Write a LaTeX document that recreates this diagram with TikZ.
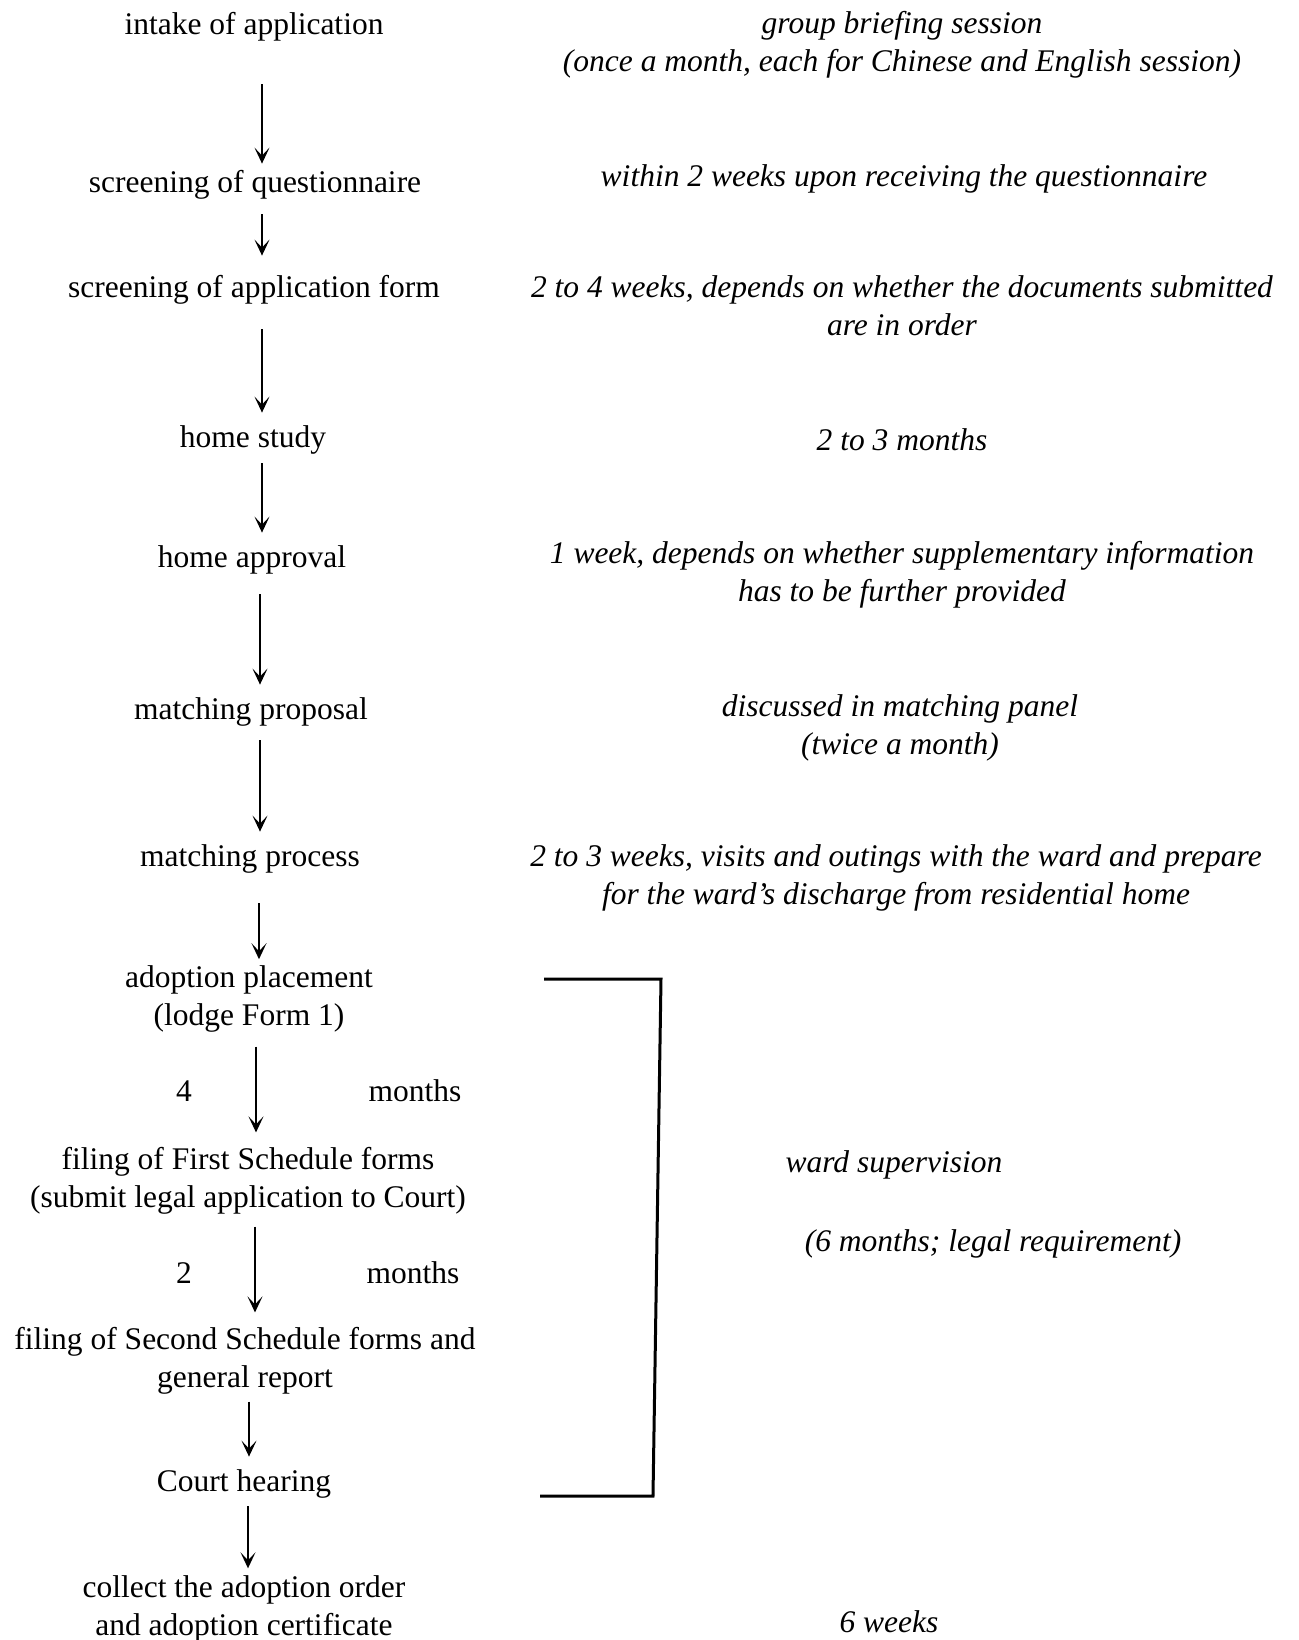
\documentclass[tikz,border=0pt]{standalone}
\usepackage{fontspec}
\setmainfont{Liberation Serif}
\usetikzlibrary{arrows.meta}
\newcommand\mystrut{\rule[-3.95pt]{0pt}{19pt}}
\begin{document}
\begin{tikzpicture}[x=0.5pt,y=-0.5pt,
  lbl/.style={inner sep=0pt, align=center, font=\fontsize{15.75}{19}\selectfont},
  one/.style={lbl, text height=15.05pt, text depth=3.95pt},
  tm/.style={lbl, font=\fontsize{15.75}{19}\selectfont\itshape},
  tmone/.style={tm, text height=15.05pt, text depth=3.95pt},
  arr/.style={line width=0.8pt, -{Stealth[length=8pt,width=7.5pt,inset=4pt]}},
  brk/.style={line width=1.5pt}]
\useasboundingbox (0,0) rectangle (1299,1640);
% left column
\node[one] (n1) at (254,23) {intake of application};
\node[one] (n2) at (255,181) {screening of questionnaire};
\node[one] (n3) at (254,286) {screening of application form};
\node[one] (n4) at (253,436) {home study};
\node[one] (n5) at (252,556) {home approval};
\node[one] (n6) at (251,708) {matching proposal};
\node[one] (n7) at (250,855) {matching process};
\node[lbl] (n8) at (249,995) {\mystrut adoption placement\\(lodge Form 1)\mystrut};
\node[lbl] (n9) at (248,1177) {\mystrut filing of First Schedule forms\\(submit legal application to Court)\mystrut};
\node[lbl] (n10) at (245,1357) {\mystrut filing of Second Schedule forms and\\general report\mystrut};
\node[one] (n11) at (244,1480) {Court hearing};
\node[lbl] (n12) at (244,1605) {\mystrut collect the adoption order\\and adoption certificate\mystrut};
% arrows
\draw[arr, shorten <=21pt, shorten >=-1pt] ([xshift=4pt]n1.south) -- ([xshift=4pt]n1.south |- n2.north);
\draw[arr, shorten <=7pt, shorten >=5.5pt] ([xshift=3.5pt]n2.south) -- ([xshift=3.5pt]n2.south |- n3.north);
\draw[arr, shorten <=12pt, shorten >=2pt] ([xshift=4pt]n3.south) -- ([xshift=4pt]n3.south |- n4.north);
\draw[arr, shorten <=4pt, shorten >=2pt] ([xshift=4.5pt]n4.south) -- ([xshift=4.5pt]n4.south |- n5.north);
\draw[arr, shorten <=9.5pt, shorten >=2pt] ([xshift=4pt]n5.south) -- ([xshift=4pt]n5.south |- n6.north);
\draw[arr, shorten <=6.5pt, shorten >=2pt] ([xshift=4.5pt]n6.south) -- ([xshift=4.5pt]n6.south |- n7.north);
\draw[arr, shorten <=14.5pt, shorten >=-1.3pt] ([xshift=4.5pt]n7.south) -- ([xshift=4.5pt]n7.south |- n8.north);
\draw[arr, shorten <=6.6pt, shorten >=3.1pt] ([xshift=3.5pt]n8.south) -- ([xshift=3.5pt]n8.south |- n9.north);
\draw[arr, shorten <=5.6pt, shorten >=3.1pt] ([xshift=3.5pt]n9.south) -- ([xshift=3.5pt]n9.south |- n10.north);
\draw[arr, shorten <=3.1pt, shorten >=2pt] ([xshift=2pt]n10.south) -- ([xshift=2pt]n10.south |- n11.north);
\draw[arr, shorten <=3.5pt, shorten >=-0.85pt] ([xshift=2pt]n11.south) -- ([xshift=2pt]n11.south |- n12.north);
% month labels
\node[one] (m4) at (184,1090) {4};
\node[one] (m4b) at (415,1090) {months};
\node[one] (m2) at (184,1272) {2};
\node[one] (m2b) at (413,1272) {months};
% right column
\node[tm] (r1) at (902,41) {\mystrut group briefing session\\(once a month, each for Chinese and English session)\mystrut};
\node[tmone] (r2) at (904,175) {within 2 weeks upon receiving the questionnaire};
\node[tm] (r3) at (902,305.5) {\mystrut 2 to 4 weeks, depends on whether the documents submitted\\are in order\mystrut};
\node[tmone] (r4) at (902,439) {2 to 3 months};
\node[tm] (r5) at (902,571) {\mystrut 1 week, depends on whether supplementary information\\has to be further provided\mystrut};
\node[tm] (r6) at (900,724.5) {\mystrut discussed in matching panel\\(twice a month)\mystrut};
\node[tm] (r7) at (896,874.5) {\mystrut 2 to 3 weeks, visits and outings with the ward and prepare\\for the ward's discharge from residential home\mystrut};
\node[tmone] (r8) at (894,1161) {ward supervision};
\node[tmone] (r9) at (993,1240) {(6 months; legal requirement)};
\node[tmone] (r10) at (889,1621) {6 weeks};
% bracket
\coordinate (b1) at (544,979);
\coordinate (b2) at (661,979);
\coordinate (b3) at (653,1496);
\coordinate (b4) at (540,1496);
\draw[brk] (b1) -- (b2) -- (b3) -- (b4);
\end{tikzpicture}
\end{document}
